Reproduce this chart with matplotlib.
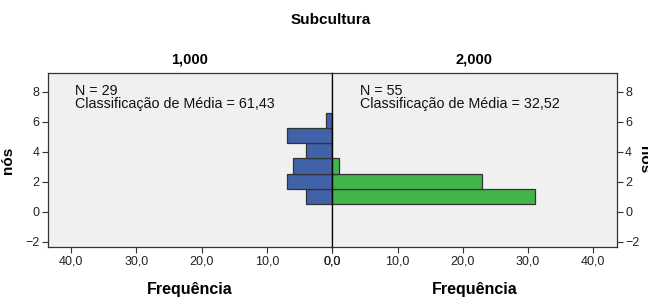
import numpy as np
import matplotlib
matplotlib.use("Agg")
import matplotlib.pyplot as plt
from matplotlib.ticker import FuncFormatter

plt.rcParams['font.family'] = ['Liberation Sans', 'DejaVu Sans']

# histogram bins of "nós" (lower edges) and frequencies per group
bin_edges = [0.5, 1.52, 2.53, 3.55, 4.57, 5.58, 6.6]
freq_g1 = [4, 7, 6, 4, 7, 1]      # Subcultura = 1,000
freq_g2 = [31, 23, 1, 0, 0, 0]    # Subcultura = 2,000
groups = ['1,000', '2,000']
n_vals = [29, 55]
mean_ranks = ['61,43', '32,52']

bg = '#F0F0F0'
blue = '#4161A8'
green = '#42B54A'
edge = '#333333'

fig = plt.figure(figsize=(6.48, 3.03), dpi=100)
ax1 = fig.add_axes([0.0736, 0.1858, 0.4392, 0.5723])
ax2 = fig.add_axes([0.5128, 0.1858, 0.4389, 0.5723])

lows = np.array(bin_edges[:-1])
widths = np.diff(bin_edges)
fmt = FuncFormatter(lambda v, p: f'{v:.1f}'.replace('.', ','))

for ax, freq, col, grp, n, mr in [(ax1, freq_g1, blue, groups[0], n_vals[0], mean_ranks[0]),
                                  (ax2, freq_g2, green, groups[1], n_vals[1], mean_ranks[1])]:
    ax.set_facecolor(bg)
    ax.barh(lows, freq, height=widths, align='edge', color=col,
            edgecolor=edge, linewidth=0.9)
    ax.set_xlim(0, 43.6)
    ax.set_ylim(-2.33, 9.23)
    ax.set_xticks([0, 10, 20, 30, 40])
    ax.xaxis.set_major_formatter(fmt)
    ax.set_yticks([-2, 0, 2, 4, 6, 8])
    ax.tick_params(labelsize=9, length=4, width=0.8, color='#333333',
                   labelcolor='#222222', pad=2)
    for s in ax.spines.values():
        s.set_color('#333333')
        s.set_linewidth(0.9)
    ax.set_xlabel('Frequência', fontsize=11.5, fontweight='bold', labelpad=11)
    ax.set_title(grp, fontsize=10.5, fontweight='bold', pad=7)
    ax.text(0.096, 0.94, f'N = {n}\nClassificação de Média = {mr}',
            transform=ax.transAxes, fontsize=10.3, va='top', ha='left',
            linespacing=0.95, color='#111111')

ax1.invert_xaxis()
ax1.set_ylabel('nós', fontsize=11, fontweight='bold')
ax1.yaxis.set_label_coords(-0.115, 0.5)
ax2.yaxis.tick_right()
ax2.yaxis.set_label_position('right')
ax2.set_ylabel('nós', fontsize=11, fontweight='bold', rotation=270, va='center')
ax2.yaxis.set_label_coords(1.095, 0.5)
ax1.spines['right'].set_color('black')
ax2.spines['left'].set_color('black')

fig.text(0.51, 0.935, 'Subcultura', ha='center', va='center',
         fontsize=11, fontweight='bold')

fig.savefig('out.png', dpi=100, facecolor='white')
